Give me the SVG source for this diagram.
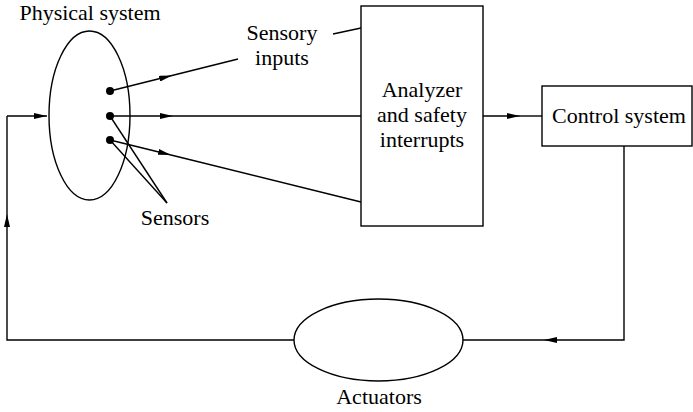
<svg xmlns="http://www.w3.org/2000/svg" width="693" height="412" viewBox="0 0 693 412">
<style>
.ln{fill:none;stroke:#000;stroke-width:1.4}
.sh{fill:#fff;stroke:#000;stroke-width:1.4}
.t{font-family:"Liberation Serif","Times New Roman",serif;font-size:22px;fill:#000;text-anchor:middle}
</style>
<defs>
<marker id="ah" viewBox="0 0 13 6" refX="13" refY="3" markerWidth="13" markerHeight="6" markerUnits="userSpaceOnUse" orient="auto">
<path d="M0,0 L13,3 L0,6 Z" fill="#000"/>
</marker>
</defs>
<g id="connectors">
<line class="ln" x1="110" y1="91" x2="172" y2="75.5" marker-end="url(#ah)"/>
<line class="ln" x1="172" y1="75.5" x2="238" y2="59"/>
<line class="ln" x1="110" y1="116" x2="173" y2="116" marker-end="url(#ah)"/>
<line class="ln" x1="173" y1="116" x2="361" y2="116"/>
<line class="ln" x1="110" y1="140" x2="171" y2="155" marker-end="url(#ah)"/>
<line class="ln" x1="171" y1="155" x2="361" y2="202"/>
<line class="ln" x1="110" y1="116" x2="167" y2="203"/>
<line class="ln" x1="110" y1="140" x2="167" y2="203"/>
<line class="ln" x1="333" y1="34" x2="361" y2="28"/>
<line class="ln" x1="483" y1="116" x2="520" y2="116" marker-end="url(#ah)"/>
<line class="ln" x1="520" y1="116" x2="542" y2="116"/>
<polyline class="ln" points="624,146 624,340 544,340" marker-end="url(#ah)"/>
<line class="ln" x1="544" y1="340" x2="463" y2="340"/>
<polyline class="ln" points="294,340 7,340 7,214" marker-end="url(#ah)"/>
<line class="ln" x1="7" y1="214" x2="7" y2="116"/>
<line class="ln" x1="7" y1="116" x2="47" y2="116" marker-end="url(#ah)"/>
</g>
<g id="physical-system">
<ellipse cx="89.5" cy="115.5" rx="40.5" ry="84.5" class="ln"/>
<text class="t" x="90" y="20">Physical system</text>
</g>
<g id="sensors">
<circle cx="110" cy="91" r="4" fill="#000"/>
<circle cx="110" cy="116" r="4" fill="#000"/>
<circle cx="110" cy="140" r="4" fill="#000"/>
<text class="t" x="175" y="225">Sensors</text>
</g>
<g id="sensory-inputs">
<text class="t" x="282" y="40">Sensory</text>
<text class="t" x="282" y="65">inputs</text>
</g>
<g id="analyzer">
<rect x="361" y="6" width="122" height="220" class="sh"/>
<text class="t" x="422" y="97">Analyzer</text>
<text class="t" x="422" y="122">and safety</text>
<text class="t" x="422" y="147">interrupts</text>
</g>
<g id="control-system">
<rect x="542" y="86" width="150" height="60" class="sh"/>
<text class="t" x="619" y="123">Control system</text>
</g>
<g id="actuators">
<ellipse cx="378.5" cy="340" rx="84.5" ry="41" class="sh"/>
<text class="t" x="379" y="404">Actuators</text>
</g>
</svg>
